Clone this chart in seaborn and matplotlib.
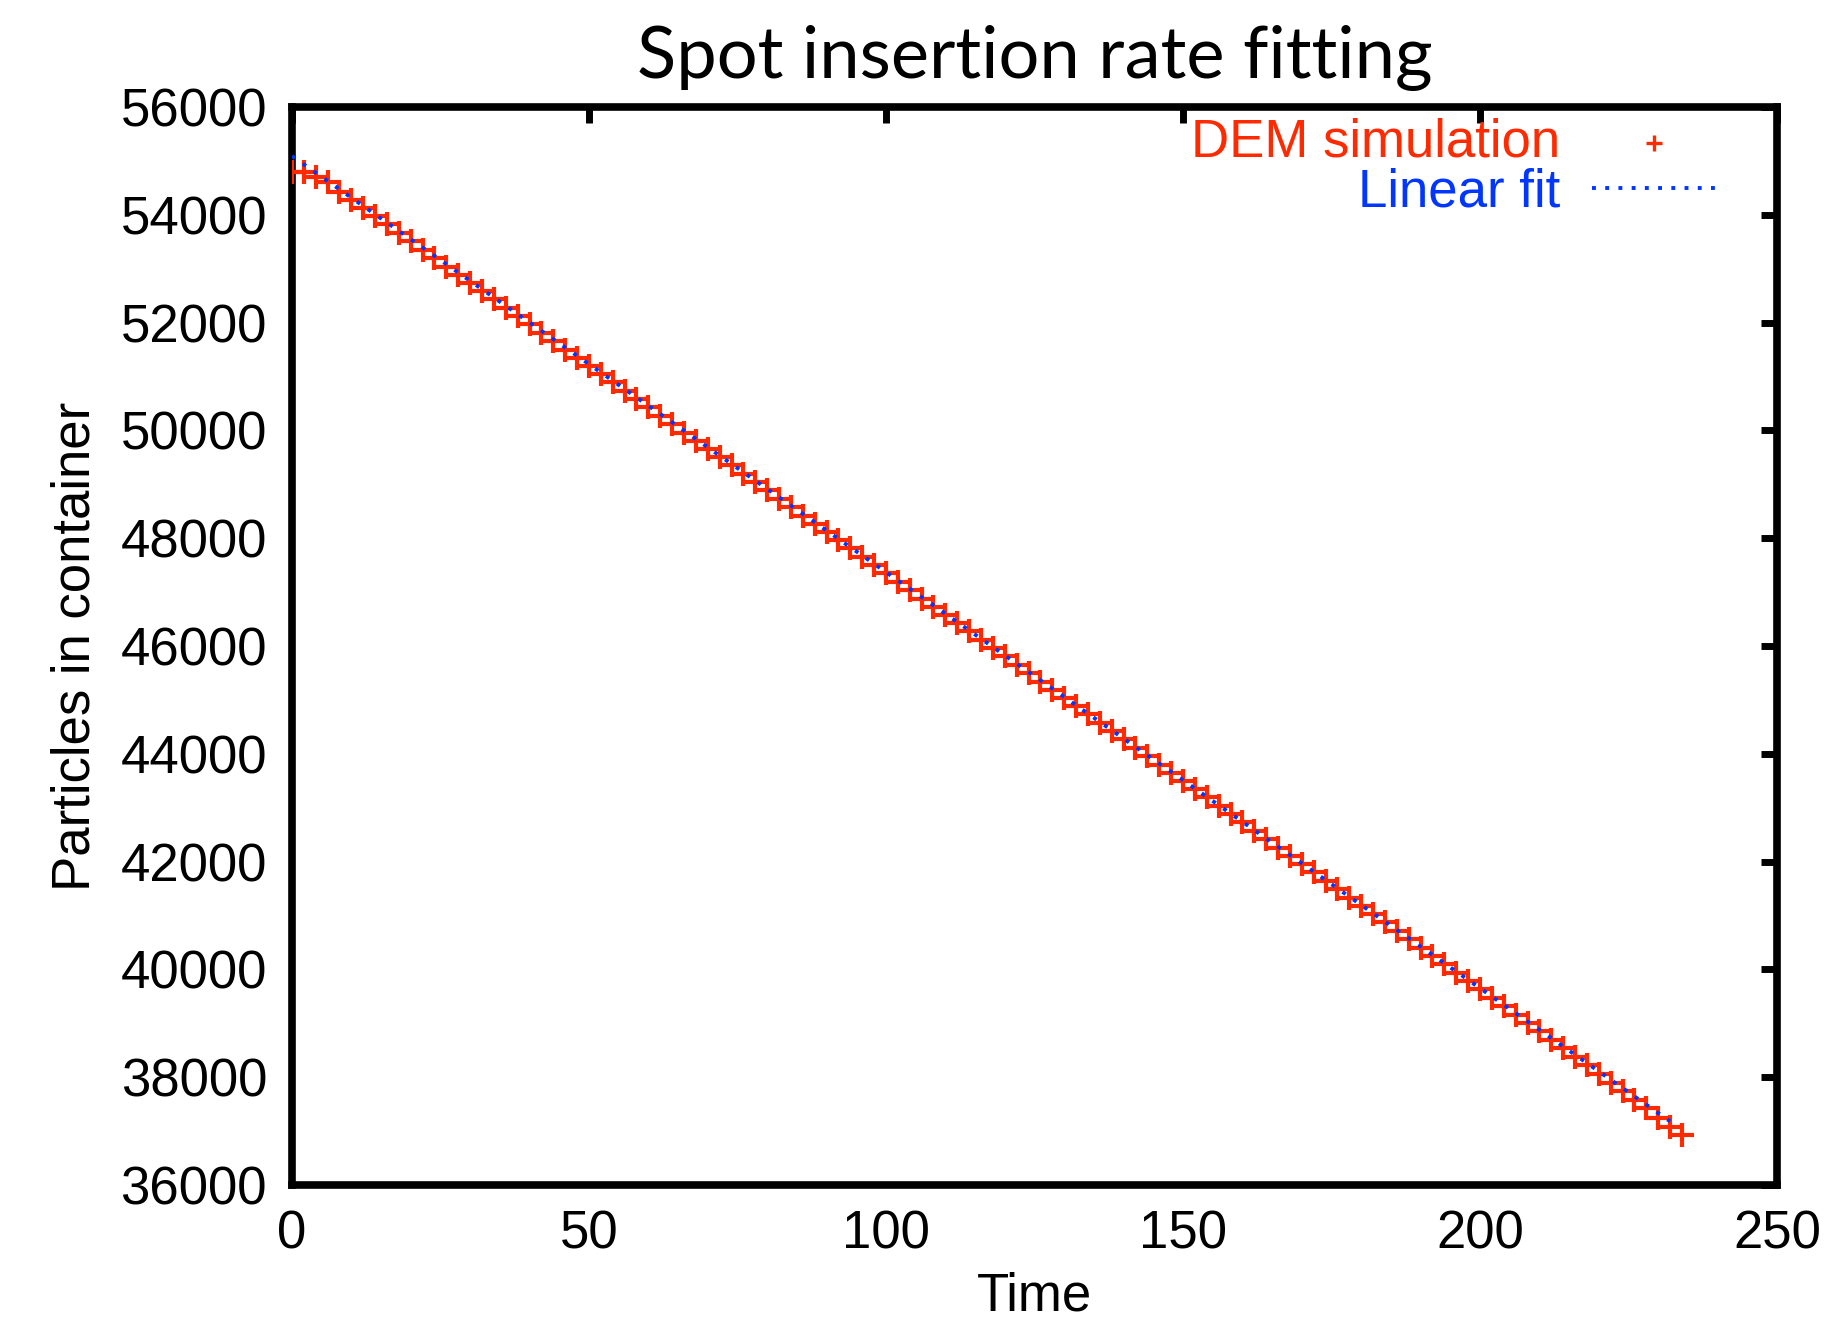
import matplotlib
matplotlib.use("Agg")
import matplotlib.pyplot as plt
import seaborn as sns

# DEM simulation output
time = [0, 2, 4, 6, 8, 10, 12, 14, 16, 18, 20, 22, 24, 26, 28, 30, 32, 34, 36, 38,
        40, 42, 44, 46, 48, 50, 52, 54, 56, 58, 60, 62, 64, 66, 68, 70, 72, 74, 76, 78,
        80, 82, 84, 86, 88, 90, 92, 94, 96, 98, 100, 102, 104, 106, 108, 110, 112, 114, 116, 118,
        120, 122, 124, 126, 128, 130, 132, 134, 136, 138, 140, 142, 144, 146, 148, 150, 152, 154, 156, 158,
        160, 162, 164, 166, 168, 170, 172, 174, 176, 178, 180, 182, 184, 186, 188, 190, 192, 194, 196, 198,
        200, 202, 204, 206, 208, 210, 212, 214, 216, 218, 220, 222, 224, 226, 228, 230, 232, 234]
particles = [54800, 54790, 54700, 54600, 54430, 54280, 54120, 53970, 53820, 53660,
             53510, 53350, 53200, 53040, 52890, 52740, 52580, 52430, 52270, 52120,
             51970, 51810, 51660, 51500, 51350, 51200, 51040, 50890, 50730, 50580,
             50430, 50270, 50120, 49960, 49810, 49660, 49500, 49350, 49190, 49040,
             48890, 48730, 48580, 48420, 48270, 48120, 47960, 47810, 47650, 47500,
             47350, 47190, 47040, 46880, 46730, 46580, 46420, 46270, 46110, 45960,
             45810, 45650, 45500, 45340, 45190, 45040, 44880, 44730, 44570, 44420,
             44270, 44110, 43960, 43800, 43650, 43500, 43340, 43190, 43030, 42880,
             42730, 42570, 42420, 42260, 42110, 41950, 41800, 41640, 41490, 41330,
             41180, 41020, 40870, 40710, 40560, 40400, 40250, 40090, 39940, 39780,
             39630, 39470, 39320, 39160, 39010, 38850, 38690, 38540, 38380, 38220,
             38060, 37900, 37740, 37580, 37420, 37250, 37080, 36920]

# linear fit end points
fit_time = [0, 232]
fit_particles = [55090, 37180]

x_ticks = [0, 50, 100, 150, 200, 250]
y_ticks = [36000, 38000, 40000, 42000, 44000, 46000, 48000, 50000, 52000, 54000, 56000]

red = "#ff2a00"
blue = "#0036ff"

sns.set_style("white")
plt.rcParams["font.family"] = ["Liberation Sans", "DejaVu Sans"]
plt.rcParams["text.color"] = "black"
plt.rcParams["axes.labelcolor"] = "black"

fig = plt.figure(figsize=(18.43, 13.21), dpi=100)
ax = fig.add_axes([0.1584, 0.1030, 0.8058, 0.8160])

sns.scatterplot(x=time, y=particles, marker="+", s=280, color=red,
                linewidth=3.0, label="DEM simulation", ax=ax, zorder=3)
sns.lineplot(x=fit_time, y=fit_particles, color=blue, linewidth=2.8,
             linestyle=(0, (1, 2.4)), label="Linear fit", ax=ax, zorder=4)

ax.set_xlim(0, 250)
ax.set_ylim(36000, 56000)
ax.set_xticks(x_ticks)
ax.set_yticks(y_ticks)

for s in ax.spines.values():
    s.set_visible(True)
    s.set_color("black")
    s.set_linewidth(5.5)
ax.tick_params(direction="in", length=11.5, width=5, colors="black",
               labelsize=38, top=True, right=True)
ax.tick_params(axis="y", pad=18)
ax.tick_params(axis="x", pad=18)

ax.set_xlabel("Time", fontsize=38, labelpad=8)
ax.set_ylabel("Particles in container", fontsize=38, labelpad=14)

leg = ax.legend(loc="upper right", bbox_to_anchor=(0.959, 0.990), frameon=False,
                markerfirst=False, fontsize=38, borderpad=0, borderaxespad=0,
                handlelength=2.35, handletextpad=0.6, labelspacing=0.0)
for txt, c in zip(leg.get_texts(), [red, blue]):
    txt.set_color(c)
leg.legend_handles[0].set_sizes([120])
leg.legend_handles[0].set_linewidth(2.4)

fig.text(0.5616, 1 - 78 / 1321, "Spot insertion rate fitting", ha="center",
         va="baseline", fontsize=52, color="black", family=["Lato", "DejaVu Sans"])

fig.savefig("out.png", dpi=100)
